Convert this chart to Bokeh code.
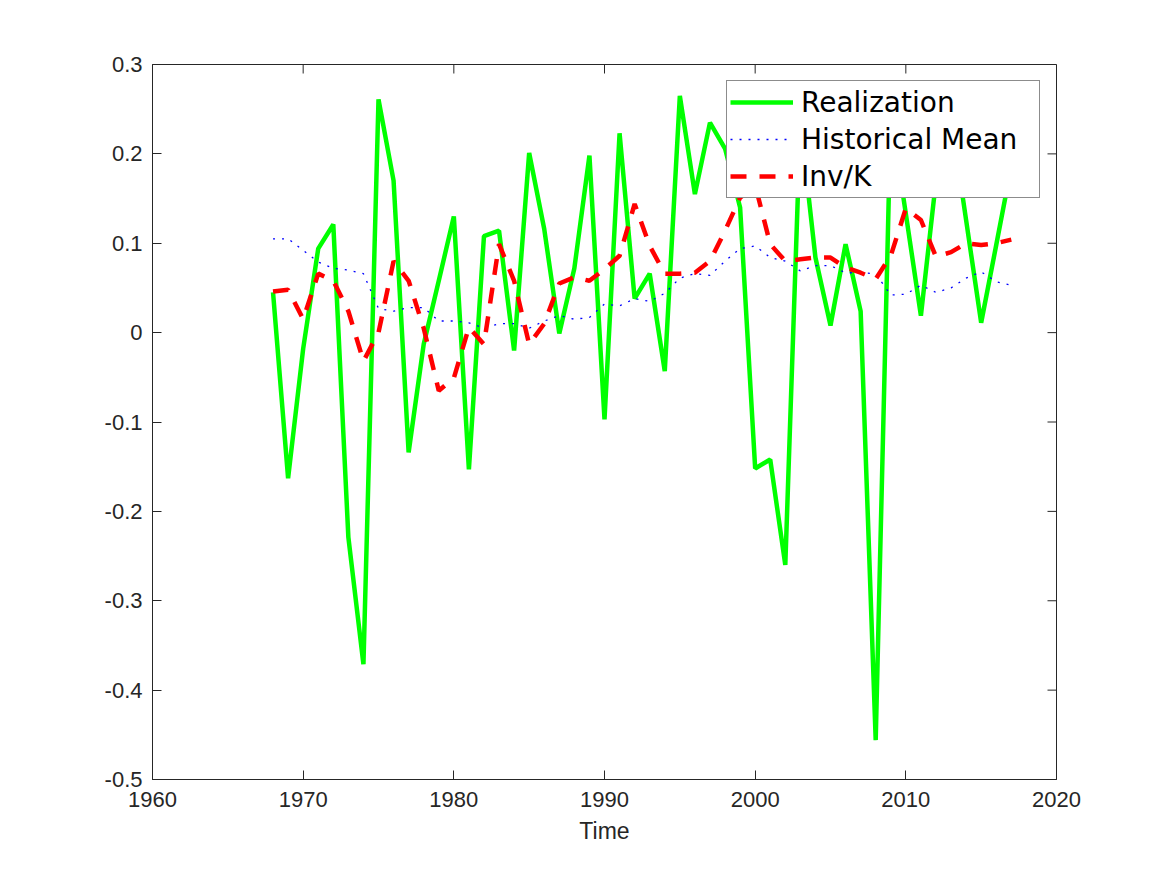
import math
from bokeh.plotting import figure
from bokeh.models import Range1d, FixedTicker, Legend, LegendItem
from bokeh.embed import file_html
from bokeh.resources import INLINE

years = list(range(1968, 2018))

realization = [
    0.045, -0.163, -0.018, 0.094, 0.121, -0.229, -0.371, 0.261, 0.170, -0.134,
    -0.013, 0.058, 0.130, -0.153, 0.108, 0.114, -0.020, 0.201, 0.116, -0.001,
    0.072, 0.198, -0.097, 0.223, 0.038, 0.066, -0.043, 0.265, 0.155, 0.235,
    0.206, 0.140, -0.152, -0.142, -0.260, 0.236, 0.084, 0.008, 0.099, 0.024,
    -0.456, 0.245, 0.133, 0.019, 0.170, 0.241, 0.126, 0.011, 0.098, 0.186,
]

historical_mean = [
    0.105, 0.105, 0.092, 0.079, 0.072, 0.070, 0.066, 0.027, 0.024, 0.028,
    0.028, 0.013, 0.013, 0.011, 0.005, 0.010, 0.010, 0.005, 0.013, 0.019,
    0.015, 0.017, 0.032, 0.030, 0.038, 0.035, 0.044, 0.061, 0.066, 0.064,
    0.080, 0.094, 0.097, 0.084, 0.080, 0.069, 0.075, 0.075, 0.067, 0.067,
    0.066, 0.042, 0.043, 0.053, 0.045, 0.050, 0.061, 0.068, 0.057, 0.053,
]

inv_k = [
    0.046, 0.048, 0.015, 0.066, 0.058, 0.024, -0.032, 0.000, 0.080, 0.058,
    0.005, -0.065, -0.051, 0.006, -0.013, 0.099, 0.058, -0.013, 0.010, 0.055,
    0.062, 0.058, 0.071, 0.086, 0.144, 0.097, 0.066, 0.066, 0.067, 0.080,
    0.114, 0.151, 0.165, 0.099, 0.080, 0.082, 0.084, 0.084, 0.073, 0.067,
    0.060, 0.086, 0.139, 0.126, 0.085, 0.090, 0.100, 0.098, 0.100, 0.104,
]

x_ticks = [1960, 1970, 1980, 1990, 2000, 2010, 2020]
y_ticks = [-0.5, -0.4, -0.3, -0.2, -0.1, 0, 0.1, 0.2, 0.3]
y_tick_labels = ["-0.5", "-0.4", "-0.3", "-0.2", "-0.1", "0", "0.1", "0.2", "0.3"]

series_names = ["Realization", "Historical Mean", "Inv/K"]

AX = "#262626"
TICK_FONT = "Liberation Sans"
X0, X1 = 1960, 2020
Y0, Y1 = -0.5, 0.3

p = figure(
    frame_width=904, frame_height=715,
    x_range=Range1d(X0, X1), y_range=Range1d(Y0, Y1),
    output_backend="svg", toolbar_location=None,
    min_border_left=152, min_border_top=64, min_border_right=100, min_border_bottom=80,
    background_fill_color="white", border_fill_color="white",
)
p.xgrid.visible = False
p.ygrid.visible = False
p.outline_line_color = AX
p.outline_line_width = 1

r1 = p.line(years, realization, line_color="#00ff00", line_width=4.5)
r2 = p.line(years, historical_mean, line_color="#0000ff", line_width=1.3, line_dash="2 7")
r3 = p.line(years, inv_k, line_color="#ff0000", line_width=4.5, line_dash="16 13")

# inward ticks on the top and right edges of the box (MATLAB-style)
p.ray(x=x_ticks, y=[Y1] * len(x_ticks), length=9, length_units="screen",
      angle=-math.pi / 2, line_color=AX, line_width=1)
p.ray(x=[X1] * len(y_ticks), y=y_ticks, length=9, length_units="screen",
      angle=math.pi, line_color=AX, line_width=1)

xax = p.xaxis[0]
yax = p.yaxis[0]
xax.ticker = FixedTicker(ticks=x_ticks)
yax.ticker = FixedTicker(ticks=y_ticks)
yax.major_label_overrides = {t: s for t, s in zip(y_ticks, y_tick_labels)}
for ax in (xax, yax):
    ax.axis_line_color = AX
    ax.major_tick_line_color = AX
    ax.major_tick_in = 9
    ax.major_tick_out = 0
    ax.minor_tick_line_color = None
    ax.major_label_text_font = TICK_FONT
    ax.major_label_text_color = AX
    ax.major_label_text_font_size = "22px"
xax.major_label_standoff = 12
yax.major_label_standoff = 10
xax.axis_label = "Time"
xax.axis_label_text_font = TICK_FONT
xax.axis_label_text_font_size = "23px"
xax.axis_label_text_font_style = "normal"
xax.axis_label_text_color = AX
xax.axis_label_standoff = 8

legend = Legend(
    items=[LegendItem(label=n, renderers=[r]) for n, r in zip(series_names, [r1, r2, r3])],
    location="top_right", margin=16, padding=3, spacing=1,
    glyph_width=63, glyph_height=36, label_height=36, label_width=235, label_standoff=8,
    label_text_font="DejaVu Sans", label_text_font_size="28px", label_text_color="#000000",
    border_line_color="#1a1a1a", border_line_width=1, background_fill_color="white",
    background_fill_alpha=1.0,
)
p.add_layout(legend)

open("out.html", "w").write(file_html(p, INLINE))
